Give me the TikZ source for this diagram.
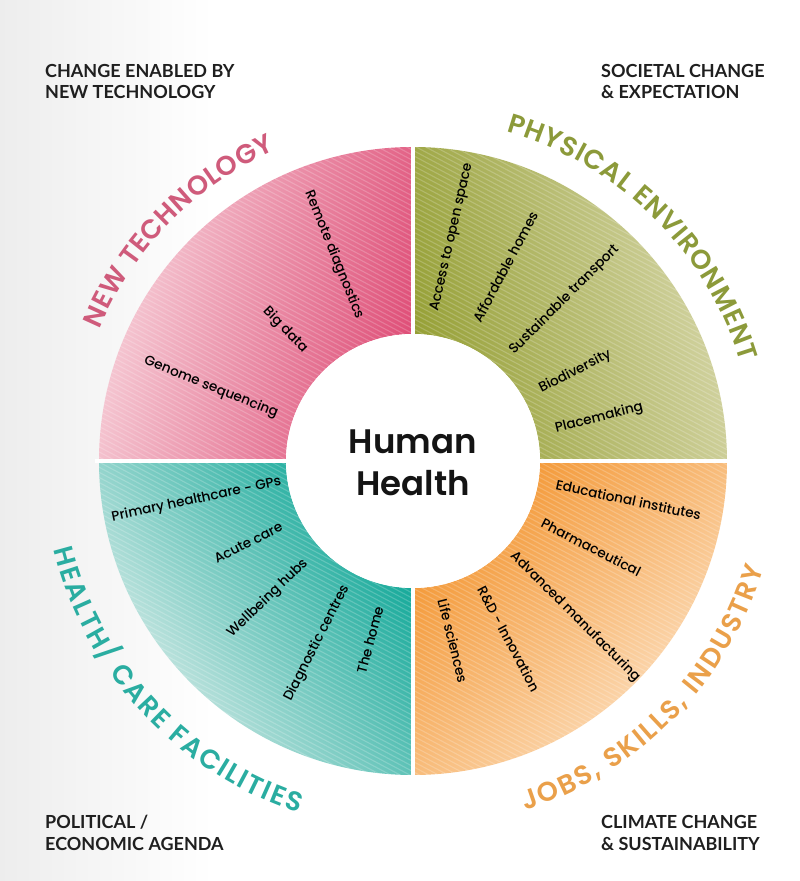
\documentclass[tikz,border=0pt]{standalone}
\usepackage{fontspec}
\setmainfont{Poppins}
\newfontfamily\itemfont{Poppins Medium}
\newfontfamily\titlefont{Poppins SemiBold}
\newfontfamily\cornerfont{Lato}
\usetikzlibrary{decorations.text}
\definecolor{pinkL}{HTML}{F7D3DB}
\definecolor{pinkD}{HTML}{DF4F78}
\definecolor{greenD}{HTML}{96A036}
\definecolor{greenL}{HTML}{D6D6A8}
\definecolor{tealL}{HTML}{E2EFEC}
\definecolor{tealD}{HTML}{0EA797}
\definecolor{orangeD}{HTML}{F39530}
\definecolor{orangeL}{HTML}{FDE3C6}
\definecolor{pinkT}{HTML}{CF5B7B}
\definecolor{greenT}{HTML}{8C9A3A}
\definecolor{tealT}{HTML}{2AADA1}
\definecolor{orangeT}{HTML}{EAA04A}
\begin{document}
\begin{tikzpicture}[x=1pt,y=1pt,
  item/.style={font=\itemfont\fontsize{13.6}{16}\selectfont, text=black, inner sep=0pt},
  corner/.style={font=\cornerfont\bfseries\fontsize{18}{21}\selectfont, text=black!88, anchor=base west, inner sep=0pt},
  hh/.style={font=\titlefont\fontsize{34}{40}\selectfont, text=black!92, anchor=base, inner sep=0pt},
  stripe/.style={white, opacity=0.2, line width=1.1pt},
  gap/.style={white, line width=3.5pt}]
\useasboundingbox (-413,-420) rectangle (387,461);
\fill[white] (-413,-420) rectangle (387,461);
\shade[left color=black!7, right color=white] (-413,-420) rectangle (-200,461);

% quadrants
\shade[left color=pinkL, right color=pinkD, shading angle=75]
  (90:314) arc[start angle=90,end angle=180,radius=314] -- (180:127) arc[start angle=180,end angle=90,radius=127] -- cycle;
\shade[left color=greenD, right color=greenL, shading angle=105]
  (0:314) arc[start angle=0,end angle=90,radius=314] -- (90:127) arc[start angle=90,end angle=0,radius=127] -- cycle;
\shade[left color=tealL, right color=tealD, shading angle=125]
  (180:314) arc[start angle=180,end angle=270,radius=314] -- (270:127) arc[start angle=270,end angle=180,radius=127] -- cycle;
\shade[left color=orangeD, right color=orangeL, shading angle=45]
  (270:314) arc[start angle=270,end angle=360,radius=314] -- (0:127) arc[start angle=360,end angle=270,radius=127] -- cycle;

% stripes
\begin{scope}[even odd rule]
  \clip (0,0) circle[radius=314] (0,0) circle[radius=127];
  \foreach \i in {-100,...,100}
    \draw[stripe, shift={(\i*2.11,\i*3.97)}] (152:460) -- (-28:460);
\end{scope}
\draw[gap] (-318,0) -- (318,0);
\draw[gap] (0,-318) -- (0,318);
\fill[white] (0,0) circle[radius=127];

% centre
\node[hh] (human) at (0,8) {Human};
\node[hh] (health) at (0,-34) {Health};

% titles along arcs
\path[decorate, decoration={text along path, text align={fit to path},
  text={|\titlefont\fontsize{27}{27}\selectfont\color{pinkT}|NEW TECHNOLOGY}}]
  (157.2:340) arc[start angle=157.2,end angle=113.9,radius=340];
\path[decorate, decoration={text along path, text align={fit to path},
  text={|\titlefont\fontsize{27}{27}\selectfont\color{greenT}|PHYSICAL ENVIRONMENT}}]
  (74.2:342) arc[start angle=74.2,end angle=16.8,radius=342];
\path[decorate, decoration={text along path, text align={fit to path},
  text={|\titlefont\fontsize{27}{27}\selectfont\color{tealT}|HEALTH/ CARE FACILITIES}}]
  (193.9:370) arc[start angle=193.9,end angle=252,radius=370];
\path[decorate, decoration={text along path, text align={fit to path},
  text={|\titlefont\fontsize{27}{27}\selectfont\color{orangeT}|JOBS, SKILLS, INDUSTRY}}]
  (287.8:367) arc[start angle=287.8,end angle=343,radius=367];

% pink items
\node[item, rotate=-68] (remote) at (111:221) {Remote diagnostics};
\node[item, rotate=-46] (bigdata) at (134.3:183) {Big data};
\node[item, rotate=-22] (genome) at (160:215) {Genome sequencing};
% green items
\node[item, rotate=77] (access) at (80.1:227) {Access to open space};
\node[item, rotate=62] (homes) at (64.6:215) {Affordable homes};
\node[item, rotate=45] (transport) at (46.8:221) {Sustainable transport};
\node[item, rotate=27] (biodiv) at (28.8:185) {Biodiversity};
\node[item, rotate=14] (place) at (13:191) {Placemaking};
% teal items
\node[item, rotate=12] (primary) at (190.2:220) {Primary healthcare - GPs};
\node[item, rotate=27] (acute) at (206.4:184) {Acute care};
\node[item, rotate=44] (wellbeing) at (223.4:200) {Wellbeing hubs};
\node[item, rotate=63] (diag) at (242.2:206) {Diagnostic centres};
\node[item, rotate=75] (home) at (256.5:184) {The home};
% orange items
\node[item, rotate=-12] (edu) at (-10.2:219) {Educational institutes};
\node[item, rotate=-27] (pharma) at (-25.8:198) {Pharmaceutical};
\node[item, rotate=-45] (adv) at (-43.9:225) {Advanced manufacturing};
\node[item, rotate=-62] (rnd) at (-61.7:202) {R\&D - Innovation};
\node[item, rotate=-76] (life) at (-77.5:184) {Life sciences};

% corner texts
\node[corner] (tl1) at (-368,383) {CHANGE ENABLED BY};
\node[corner] (tl2) at (-368,362) {NEW TECHNOLOGY};
\node[corner] (tr1) at (188,383) {SOCIETAL CHANGE};
\node[corner] (tr2) at (188,362) {\& EXPECTATION};
\node[corner] (bl1) at (-368,-367) {POLITICAL /};
\node[corner] (bl2) at (-368,-389) {ECONOMIC AGENDA};
\node[corner] (br1) at (188,-367) {CLIMATE CHANGE};
\node[corner] (br2) at (188,-389) {\& SUSTAINABILITY};
\end{tikzpicture}
\end{document}
